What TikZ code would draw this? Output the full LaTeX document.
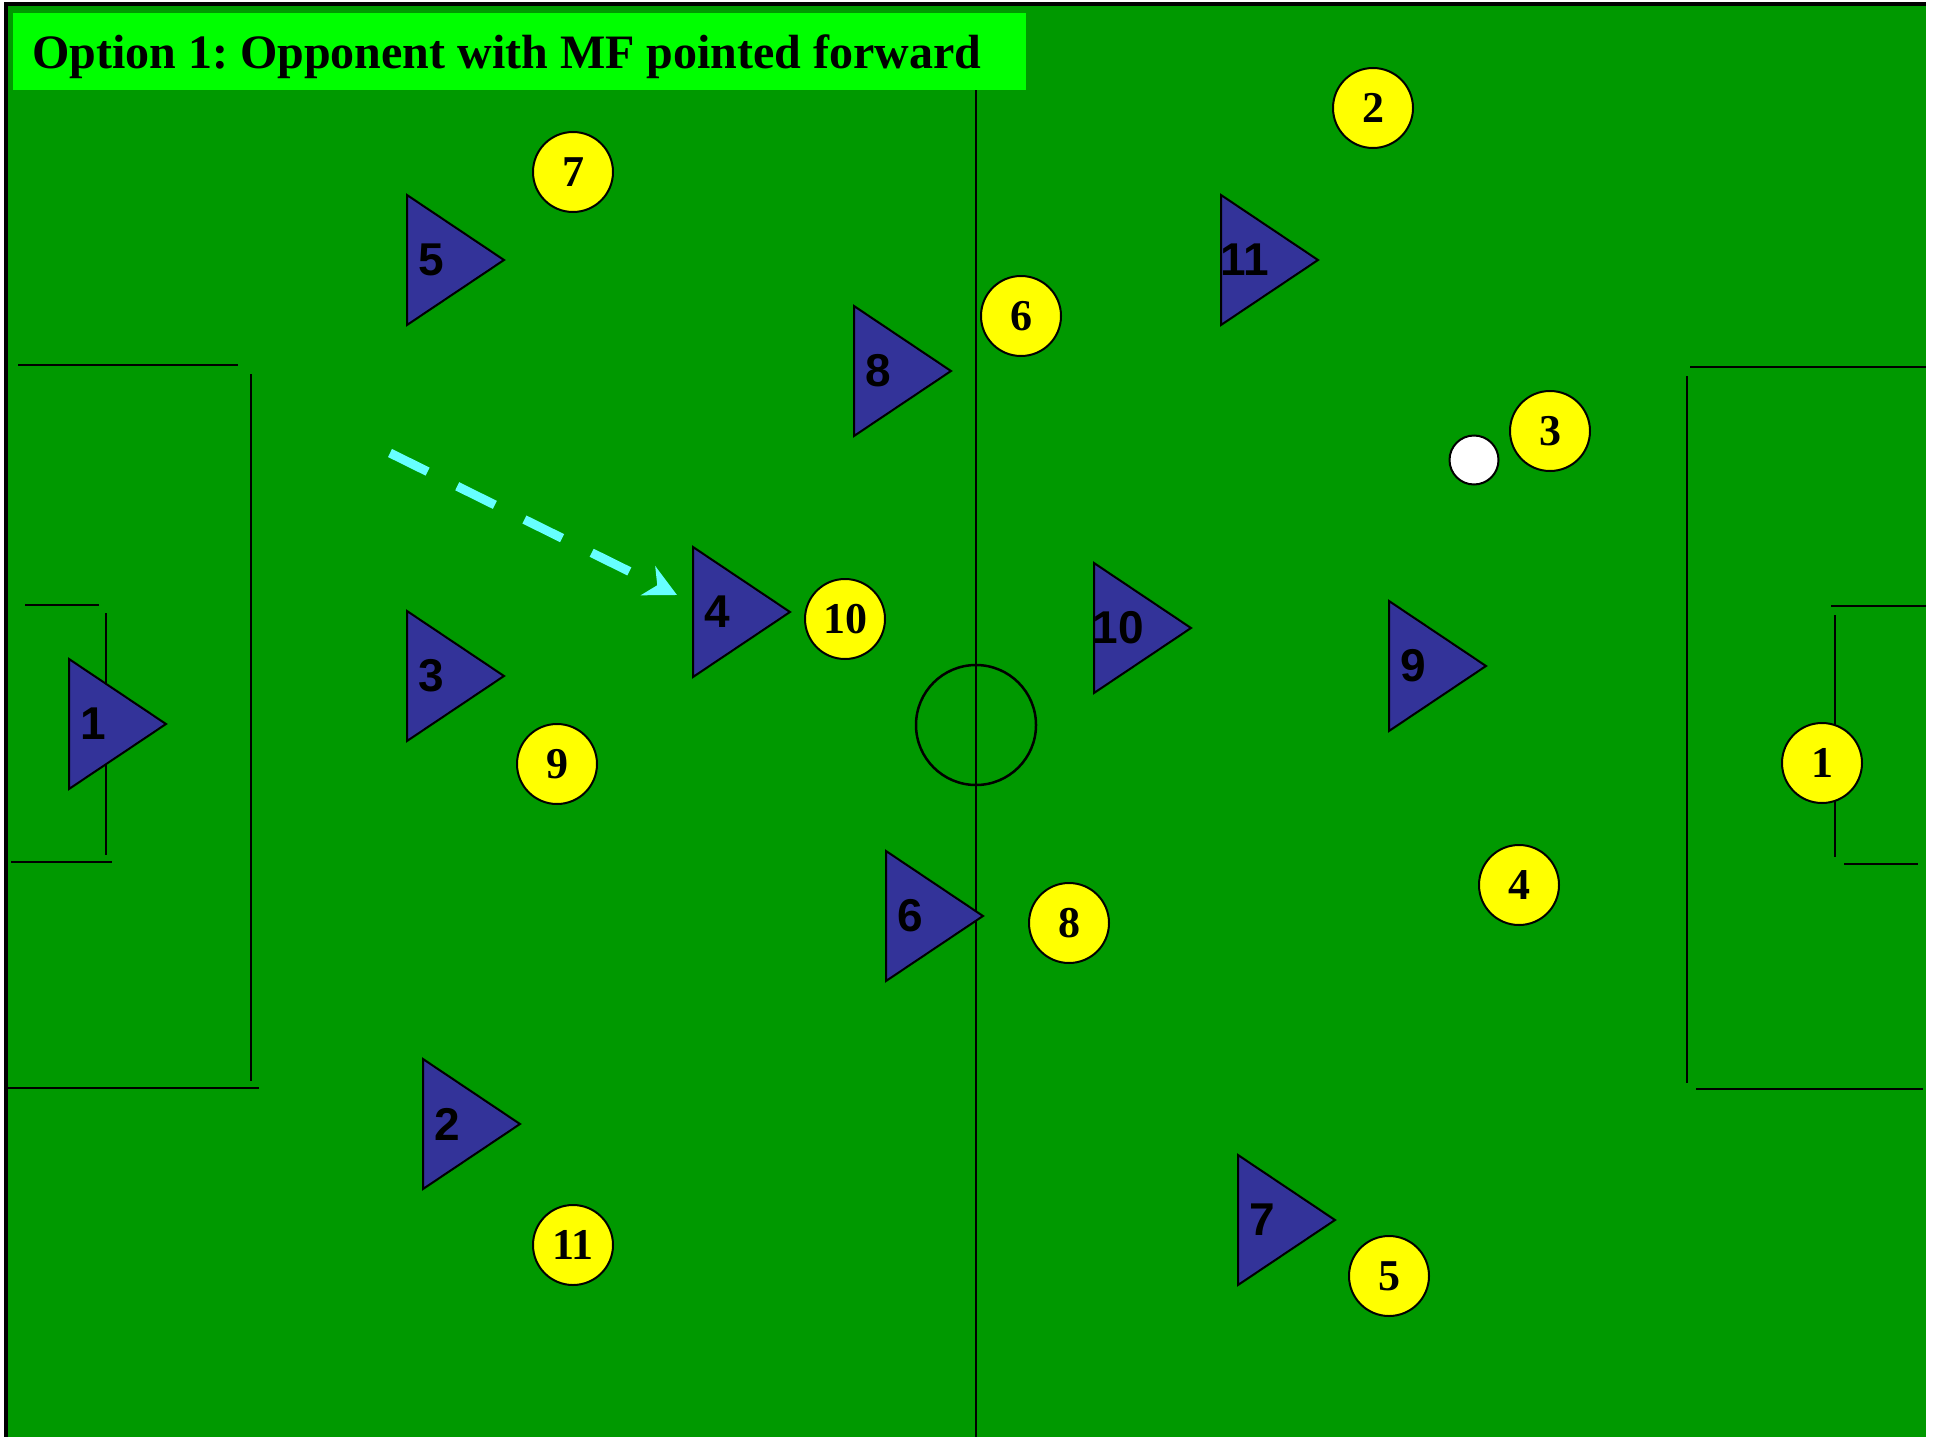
\documentclass[tikz,border=0pt]{standalone}
\usepackage{fontspec}
\setmainfont{Liberation Serif}
\newfontfamily\arialfont{Liberation Sans}
\usetikzlibrary{arrows.meta}
\frenchspacing
\definecolor{pitchgreen}{RGB}{0,153,0}
\definecolor{limegreen}{RGB}{0,255,0}
\definecolor{playerblue}{RGB}{51,51,153}
\definecolor{playeryellow}{RGB}{255,255,0}
\definecolor{runcyan}{RGB}{102,255,255}
\tikzset{
  pitchline/.style={draw=black, line width=2.5pt},
  bluetri/.style={fill=playerblue, draw=black, line width=2pt, line join=miter},
  bluelabel/.style={font=\arialfont\bfseries\fontsize{46}{46}\selectfont, inner sep=0pt, text=black},
  yellowplayer/.style={circle, fill=playeryellow, draw=black, line width=2pt, minimum size=80pt, inner sep=0pt, font=\bfseries\fontsize{44}{44}\selectfont},
  ballstyle/.style={circle, fill=white, draw=black, line width=2pt, minimum size=49pt, inner sep=0pt},
  runarrow/.style={draw=runcyan, line width=9pt, dash pattern=on 42pt off 33pt, -{Stealth[length=32pt, width=32pt, inset=10pt]}},
}
\newcommand{\blueplayer}[4]{%
  \draw[bluetri] (#2,#3-65) -- (#2+97,#3) -- (#2,#3+65) -- cycle;
  \node[bluelabel] (#1) at (#2+24,#3) {#4};
}
\begin{document}
\begin{tikzpicture}[x=1pt, y=-1pt]
\useasboundingbox (0,0) rectangle (1938,1437);
\fill[white] (0,0) rectangle (1938,1437);
% pitch
\fill[pitchgreen] (6,4) rectangle (1926,1437);
\draw[black, line width=3.5pt] (6,1437) -- (6,4) -- (1926,4);
% title
\fill[limegreen] (13,13) rectangle (1026,90);
\node[anchor=base west, inner sep=0pt, font=\bfseries\fontsize{48}{48}\selectfont] (title) at (32,69) {Option 1: Opponent with MF pointed forward};
% halfway line and centre circle
\draw[pitchline] (976,90) -- (976,1437);
\draw[pitchline] (976,725) circle (60);
% left penalty area
\draw[pitchline] (18,365) -- (238,365);
\draw[pitchline] (251,374) -- (251,1081);
\draw[pitchline] (7,1088) -- (259,1088);
\draw[pitchline] (25,605) -- (99,605);
\draw[pitchline] (106,613) -- (106,855);
\draw[pitchline] (11,862) -- (112,862);
% right penalty area
\draw[pitchline] (1690,367) -- (1926,367);
\draw[pitchline] (1687,376) -- (1687,1083);
\draw[pitchline] (1696,1089) -- (1923,1089);
\draw[pitchline] (1831,606) -- (1926,606);
\draw[pitchline] (1835,615) -- (1835,857);
\draw[pitchline] (1844,864) -- (1918,864);
% blue team
\blueplayer{b1}{69}{724}{1}
\blueplayer{b5}{407}{260}{5}
\blueplayer{b8}{854}{371}{8}
\blueplayer{b11}{1221}{260}{11}
\blueplayer{b3}{407}{676}{3}
\blueplayer{b4}{693}{612}{4}
\blueplayer{b10}{1094}{628}{10}
\blueplayer{b9}{1389}{666}{9}
\blueplayer{b6}{886}{916}{6}
\blueplayer{b2}{423}{1124}{2}
\blueplayer{b7}{1238}{1220}{7}
% yellow team
\node[yellowplayer] (y7) at (573,172) {7};
\node[yellowplayer] (y2) at (1373,108) {2};
\node[yellowplayer] (y6) at (1021,316) {6};
\node[yellowplayer] (y3) at (1550,431) {3};
\node[yellowplayer] (y10) at (845,619) {10};
\node[yellowplayer] (y9) at (557,764) {9};
\node[yellowplayer] (y1) at (1822,763) {1};
\node[yellowplayer] (y4) at (1519,885) {4};
\node[yellowplayer] (y8) at (1069,923) {8};
\node[yellowplayer] (y11) at (573,1245) {11};
\node[yellowplayer] (y5) at (1389,1276) {5};
% ball
\node[ballstyle] (ball) at (1474,460) {};
% run
\coordinate (runstart) at (390,453);
\coordinate (runend) at (677,595);
\draw[runarrow] (runstart) -- (runend);
\end{tikzpicture}
\end{document}
